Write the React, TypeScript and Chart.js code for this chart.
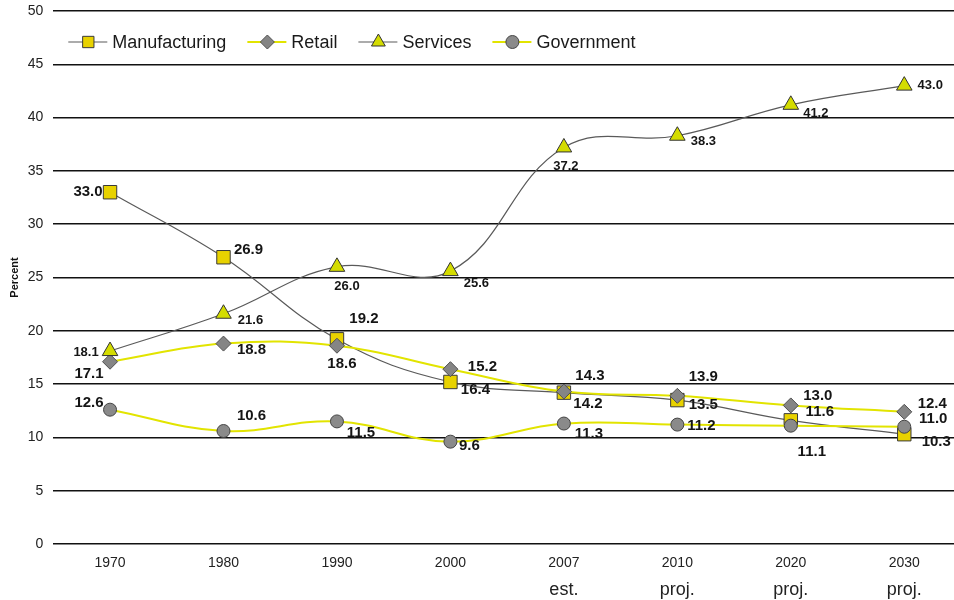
import React, { useEffect, useRef } from 'react';
import { Chart, registerables } from 'chart.js';

Chart.register(...registerables);

// ---- data ----
const years = ['1970', '1980', '1990', '2000', '2007', '2010', '2020', '2030'];
const yearNotes = ['', '', '', '', 'est.', 'proj.', 'proj.', 'proj.'];
const seriesNames = ['Manufacturing', 'Retail', 'Services', 'Government'];
const manufacturing = [33.0, 26.9, 19.2, 15.2, 14.2, 13.5, 11.6, 10.3];
const retail = [17.1, 18.8, 18.6, 16.4, 14.3, 13.9, 13.0, 12.4];
const services = [18.1, 21.6, 26.0, 25.6, 37.2, 38.3, 41.2, 43.0];
const government = [12.6, 10.6, 11.5, 9.6, 11.3, 11.2, 11.1, 11.0];
const yAxisTitle = 'Percent';

// ---- styles ----
const FONT = '"Liberation Sans", Arial, Helvetica, sans-serif';
const darkLine = '#5a5a5a';
const yellowLine = '#e2e400';
const CANVAS_W = 961;
const CANVAS_H = 600;

const seriesStyles = [
  { line: darkLine, lineWidth: 1.2, marker: 'rect', r: 9.5, fill: '#e8d200', stroke: '#3a3a3a', legendR: 8 },
  { line: yellowLine, lineWidth: 2, marker: 'rectRot', r: 7.5, fill: '#858585', stroke: '#505050', legendR: 7 },
  { line: darkLine, lineWidth: 1.2, marker: 'triangle', r: 9, fill: '#d4dc00', stroke: '#333333', legendR: 8 },
  { line: yellowLine, lineWidth: 2, marker: 'circle', r: 6.5, fill: '#8a8a8a', stroke: '#444444', legendR: 6.5 },
];

// label offsets (px) from each point, per series
const labelOffsets = [
  [[-22, 0], [25, -7], [27, -20], [32, -15], [24, 11], [26, 5], [29, -8], [32, 8]],
  [[-21, 12], [28, 6], [5, 18], [25, 21], [26, -16], [26, -19], [27, -10], [28, -8]],
  [[-24, 1], [27, 7], [10, 20], [26, 12], [2, 19], [26, 6], [25, 9], [26, 0]],
  [[-21, -7], [28, -15], [24, 11], [19, 4], [25, 10], [24, 1], [21, 26], [29, -8]],
];
const labelSizes = [15, 15, 13, 15];

function drawMarker(ctx: CanvasRenderingContext2D, style: string, x: number, y: number, r: number, fill: string, stroke: string) {
  ctx.save();
  ctx.fillStyle = fill;
  ctx.strokeStyle = stroke;
  ctx.lineWidth = 1;
  ctx.beginPath();
  if (style === 'rect') {
    const s = r * Math.SQRT1_2;
    ctx.rect(x - s, y - s, 2 * s, 2 * s);
  } else if (style === 'rectRot') {
    ctx.moveTo(x, y - r);
    ctx.lineTo(x + r, y);
    ctx.lineTo(x, y + r);
    ctx.lineTo(x - r, y);
    ctx.closePath();
  } else if (style === 'triangle') {
    ctx.moveTo(x, y - r);
    ctx.lineTo(x + r * Math.sin(2 * Math.PI / 3), y + r * 0.5);
    ctx.lineTo(x - r * Math.sin(2 * Math.PI / 3), y + r * 0.5);
    ctx.closePath();
  } else {
    ctx.arc(x, y, r, 0, Math.PI * 2);
  }
  ctx.fill();
  ctx.stroke();
  ctx.restore();
}

const pointLabelPlugin = {
  id: 'pointLabels',
  afterDatasetsDraw(chart: any) {
    const ctx: CanvasRenderingContext2D = chart.ctx;
    chart.data.datasets.forEach((ds: any, i: number) => {
      const meta = chart.getDatasetMeta(i);
      ctx.save();
      ctx.font = `bold ${labelSizes[i]}px ${FONT}`;
      ctx.fillStyle = '#151515';
      ctx.textAlign = 'center';
      ctx.textBaseline = 'middle';
      meta.data.forEach((pt: any, j: number) => {
        const [dx, dy] = labelOffsets[i][j];
        ctx.fillText((ds.data[j] as number).toFixed(1), pt.x + dx, pt.y + dy);
      });
      ctx.restore();
    });
  },
};

const legendPlugin = {
  id: 'insideLegend',
  afterDraw(chart: any) {
    const ctx: CanvasRenderingContext2D = chart.ctx;
    const area = chart.chartArea;
    let x = area.left + 15;
    const y = area.top + 31;
    ctx.save();
    ctx.font = `18px ${FONT}`;
    ctx.textBaseline = 'middle';
    ctx.textAlign = 'left';
    seriesNames.forEach((name, i) => {
      const st = seriesStyles[i];
      ctx.strokeStyle = st.line;
      ctx.lineWidth = st.lineWidth;
      ctx.beginPath();
      ctx.moveTo(x, y);
      ctx.lineTo(x + 39, y);
      ctx.stroke();
      drawMarker(ctx, st.marker, x + 20, y, st.legendR, st.fill, st.stroke);
      ctx.fillStyle = '#1a1a1a';
      ctx.fillText(name, x + 44, y + 1);
      x += 44 + ctx.measureText(name).width + 21;
    });
    ctx.restore();
  },
};

export default function App() {
  const canvasRef = useRef<HTMLCanvasElement | null>(null);

  useEffect(() => {
    if (!canvasRef.current) return;
    const seriesData = [manufacturing, retail, services, government];
    const orders = [4, 3, 2, 1];
    const chart = new Chart(canvasRef.current, {
      type: 'line',
      data: {
        labels: years,
        datasets: seriesNames.map((name, i) => ({
          label: name,
          data: seriesData[i],
          borderColor: seriesStyles[i].line,
          borderWidth: seriesStyles[i].lineWidth,
          pointStyle: seriesStyles[i].marker as any,
          pointRadius: seriesStyles[i].r,
          pointBackgroundColor: seriesStyles[i].fill,
          pointBorderColor: seriesStyles[i].stroke,
          pointBorderWidth: 1,
          tension: 0.4,
          fill: false,
          order: orders[i],
          xAxisID: 'x',
          yAxisID: 'y',
        })),
      },
      options: {
        animation: false,
        responsive: false,
        maintainAspectRatio: false,
        layout: { autoPadding: false, padding: { top: 11, left: 0, right: 0, bottom: 0 } },
        plugins: {
          legend: { display: false },
          tooltip: { enabled: false },
        },
        scales: {
          x: {
            type: 'category',
            offset: true,
            grid: { display: false, drawTicks: false },
            border: { display: false },
            ticks: { padding: 11, color: '#222', font: { size: 14, family: FONT }, autoSkip: false, maxRotation: 0 },
            afterFit: (s: any) => { s.height = 30; s.paddingLeft = 0; s.paddingRight = 0; },
          },
          x2: {
            type: 'category',
            position: 'bottom',
            labels: yearNotes,
            offset: true,
            grid: { display: false, drawTicks: false },
            border: { display: false },
            ticks: { padding: 5, color: '#222', font: { size: 18, family: FONT }, autoSkip: false, maxRotation: 0 },
            afterFit: (s: any) => { s.height = 26; s.paddingLeft = 0; s.paddingRight = 0; },
          },
          y: {
            min: 0,
            max: 50,
            ticks: { stepSize: 5, padding: 10, color: '#222', font: { size: 14, family: FONT } },
            grid: { color: '#111', lineWidth: 1.5, drawTicks: false },
            border: { display: false },
            title: {
              display: true,
              text: yAxisTitle,
              color: '#111',
              font: { size: 11, weight: 'bold', family: FONT },
              padding: { top: 8, bottom: 0 },
            },
            afterFit: (s: any) => { s.width = 53.3; s.paddingTop = 0; s.paddingBottom = 0; },
          },
        },
      } as any,
      plugins: [pointLabelPlugin, legendPlugin],
    });
    return () => chart.destroy();
  }, []);

  return (
    <div style={{ position: 'fixed', left: 0, top: 0, width: 954, height: 600, overflow: 'hidden', background: '#fff' }}>
      <canvas
        ref={canvasRef}
        width={CANVAS_W}
        height={CANVAS_H}
        style={{ display: 'block', width: CANVAS_W, height: CANVAS_H }}
      />
    </div>
  );
}
